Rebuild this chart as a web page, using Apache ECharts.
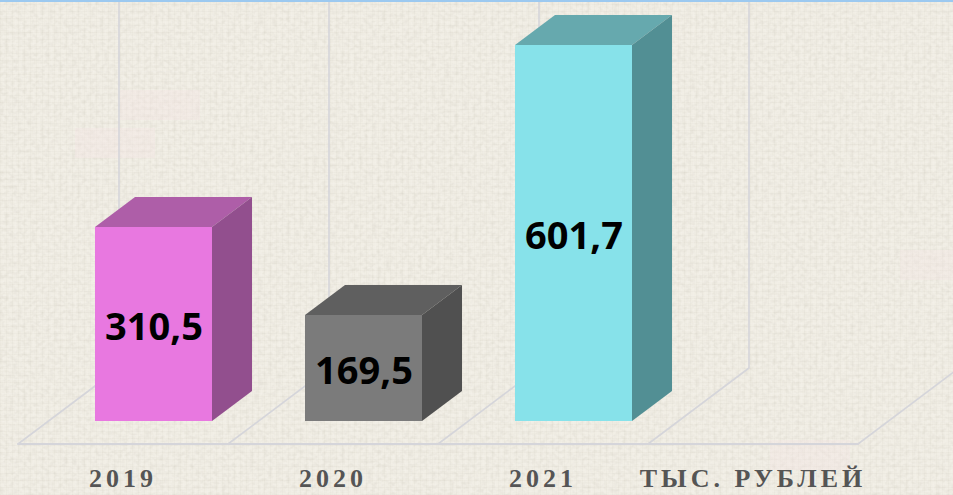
<!DOCTYPE html>
<html>
<head>
<meta charset="utf-8">
<style>
html,body{margin:0;padding:0;width:953px;height:495px;overflow:hidden}
body{background-color:#f1eee5;background-image:
 linear-gradient(rgba(244,228,228,.35),rgba(244,228,228,.35)),
 linear-gradient(rgba(244,228,228,.35),rgba(244,228,228,.35)),
 linear-gradient(rgba(244,228,228,.35),rgba(244,228,228,.35)),
 linear-gradient(rgba(244,228,228,.3),rgba(244,228,228,.3)),
 url("data:image/svg+xml,%3Csvg xmlns='http://www.w3.org/2000/svg' width='953' height='495'%3E%3Cfilter id='n'%3E%3CfeTurbulence type='fractalNoise' baseFrequency='0.22 0.28' numOctaves='2' seed='4'/%3E%3CfeColorMatrix values='0 0 0 0 0.45 0 0 0 0 0.42 0 0 0 0 0.35 0 0 0 1.6 -0.62'/%3E%3C/filter%3E%3Crect width='953' height='495' filter='url(%23n)' opacity='.22'/%3E%3C/svg%3E"),
 repeating-linear-gradient(90deg,rgba(120,110,90,.03) 0 1px,transparent 1px 3px,rgba(255,255,255,.07) 3px 4px,transparent 4px 6px),
 repeating-linear-gradient(0deg,rgba(120,110,90,.03) 0 1px,transparent 1px 3px,rgba(255,255,255,.07) 3px 4px,transparent 4px 7px);
 background-size:80px 30px,80px 30px,80px 30px,80px 30px,auto,auto,auto;
 background-position:120px 90px,75px 128px,770px 440px,900px 250px,0 0,0 0,0 0;
 background-repeat:no-repeat,no-repeat,no-repeat,no-repeat,no-repeat,repeat,repeat}
#c{width:953px;height:495px}
svg text[style*="Liberation Serif"]{letter-spacing:4px}
</style>
<script src="https://cdn.jsdelivr.net/npm/echarts@6/dist/echarts.min.js"></script>
</head>
<body>
<div id="c"></div>
<script>
var axisLabels = ['2019', '2020', '2021', 'ТЫС. РУБЛЕЙ'];
var barCategories = ['2019', '2020', '2021'];
var barValues = [310.5, 169.5, 601.7];
var frontColors = ['#e878e0', '#7b7b7b', '#87e2ea'];
var topColors = ['#ae5ea8', '#5f5f5f', '#66a9ae'];
var sideColors = ['#924f8e', '#505050', '#528f94'];

var chart = echarts.init(document.getElementById('c'), null, {renderer: 'svg'});
var lineColor = '#d5d5da';
var dx = 40, dy = -30;      // bar depth
var wx = 101, wy = -76;     // floor depth

function wallItem(params, api) {
  var i = api.value(0);
  var band = api.size([1, 0])[0];
  var c = api.coord([i, 0]);
  var xs = [c[0] - band / 2];
  if (i === axisLabels.length - 1) xs.push(c[0] + band / 2);
  return {
    type: 'group',
    children: xs.map(function (x) {
      return {
        type: 'polyline',
        shape: {points: [[x, c[1]], [x + wx, c[1] + wy], [x + wx, 0]]},
        style: {fill: 'none', stroke: lineColor, lineWidth: 1.6},
        silent: true
      };
    })
  };
}

function barItem(params, api) {
  var i = params.dataIndex;
  var value = api.value(1);
  var band = api.size([1, 0])[0];
  var w = band * 117 / 210;
  var p = api.coord([api.value(0), value]);
  var b = api.coord([api.value(0), 0]);
  var l = p[0] - w / 2, r = p[0] + w / 2, t = p[1], y0 = b[1];
  return {
    type: 'group',
    children: [
      {type: 'polygon', shape: {points: [[l, t], [r, t], [r + dx, t + dy], [l + dx, t + dy]]},
        style: {fill: topColors[i]}},
      {type: 'polygon', shape: {points: [[r, t], [r + dx, t + dy], [r + dx, y0 + dy], [r, y0]]},
        style: {fill: sideColors[i]}},
      {type: 'rect', shape: {x: l, y: t, width: w, height: y0 - t},
        style: {fill: frontColors[i]}},
      {type: 'text', x: p[0] + 0.5, y: (t + y0) / 2 + 1,
        style: {text: String(value).replace('.', ','), fill: '#000000',
          font: 'bold 38px "Noto Sans"', align: 'center', verticalAlign: 'middle'}}
    ]
  };
}

chart.setOption({
  animation: false,
  backgroundColor: 'transparent',
  graphic: [{type: 'rect', shape: {x: 0, y: 0, width: 953, height: 2}, style: {fill: '#9cc9f0'}, z: 10}],
  grid: [
    {left: 18, width: 840, top: 60, bottom: 51},
    {left: 48.5, width: 840, top: 3, height: 418}
  ],
  xAxis: [
    {type: 'category', gridIndex: 0, data: axisLabels,
      axisLine: {show: true, lineStyle: {color: lineColor, width: 2}},
      axisTick: {show: false},
      axisLabel: {interval: 0, margin: 21, color: '#555555', fontFamily: 'Liberation Serif', fontWeight: 'bold', fontSize: 26}},
    {type: 'category', gridIndex: 1, data: axisLabels, show: false}
  ],
  yAxis: [
    {type: 'value', gridIndex: 0, min: 0, max: 1, show: false},
    {type: 'value', gridIndex: 1, min: 0, max: 669, show: false}
  ],
  series: [
    {type: 'custom', name: 'wall', xAxisIndex: 0, yAxisIndex: 0, clip: false, silent: true, z: 1,
      renderItem: wallItem, encode: {x: 0, y: 1},
      data: axisLabels.map(function (c, i) { return [i, 0]; })},
    {type: 'custom', name: 'тыс. рублей', xAxisIndex: 1, yAxisIndex: 1, clip: false, z: 2,
      renderItem: barItem, encode: {x: 0, y: 1},
      data: barCategories.map(function (c, i) { return [i, barValues[i]]; })}
  ]
});
</script>
</body>
</html>
